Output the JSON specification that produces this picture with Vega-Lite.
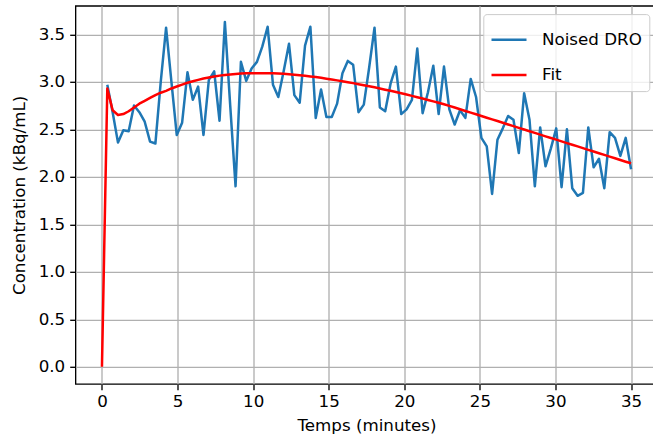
{
  "$schema": "https://vega.github.io/schema/vega-lite/v6.json",
  "width": 582,
  "height": 378.2,
  "autosize": "none",
  "padding": {"left": 75.5, "top": 5.8, "right": 0, "bottom": 60},
  "background": "white",
  "data": {"values": [
    {"t":0,"Fit":0},
    {"t":0.354,"Noised DRO":2.97,"Fit":2.93},
    {"t":0.707,"Noised DRO":2.68,"Fit":2.70},
    {"t":1.061,"Noised DRO":2.36,"Fit":2.65},
    {"t":1.414,"Noised DRO":2.49,"Fit":2.66},
    {"t":1.768,"Noised DRO":2.48,"Fit":2.69},
    {"t":2.121,"Noised DRO":2.75,"Fit":2.73},
    {"t":2.475,"Noised DRO":2.68,"Fit":2.77},
    {"t":2.828,"Noised DRO":2.58,"Fit":2.80},
    {"t":3.182,"Noised DRO":2.37,"Fit":2.83},
    {"t":3.535,"Noised DRO":2.35,"Fit":2.86},
    {"t":3.889,"Noised DRO":3.00,"Fit":2.885},
    {"t":4.242,"Noised DRO":3.57,"Fit":2.905},
    {"t":4.596,"Noised DRO":3.00,"Fit":2.93},
    {"t":4.949,"Noised DRO":2.44,"Fit":2.95},
    {"t":5.303,"Noised DRO":2.57,"Fit":2.97},
    {"t":5.657,"Noised DRO":3.10,"Fit":2.99},
    {"t":6.010,"Noised DRO":2.81,"Fit":3.005},
    {"t":6.364,"Noised DRO":2.95,"Fit":3.02},
    {"t":6.717,"Noised DRO":2.44,"Fit":3.035},
    {"t":7.071,"Noised DRO":3.02,"Fit":3.045},
    {"t":7.424,"Noised DRO":3.11,"Fit":3.055},
    {"t":7.778,"Noised DRO":2.59,"Fit":3.065},
    {"t":8.131,"Noised DRO":3.63,"Fit":3.072},
    {"t":8.485,"Noised DRO":2.75,"Fit":3.078},
    {"t":8.838,"Noised DRO":1.90,"Fit":3.083},
    {"t":9.192,"Noised DRO":3.21,"Fit":3.087},
    {"t":9.545,"Noised DRO":3.01,"Fit":3.089},
    {"t":9.899,"Noised DRO":3.14,"Fit":3.09},
    {"t":10.253,"Noised DRO":3.21,"Fit":3.09},
    {"t":10.606,"Noised DRO":3.37,"Fit":3.09},
    {"t":10.960,"Noised DRO":3.58,"Fit":3.09},
    {"t":11.313,"Noised DRO":2.97,"Fit":3.089},
    {"t":11.667,"Noised DRO":2.84,"Fit":3.087},
    {"t":12.020,"Noised DRO":3.11,"Fit":3.084},
    {"t":12.374,"Noised DRO":3.40,"Fit":3.08},
    {"t":12.727,"Noised DRO":2.86,"Fit":3.075},
    {"t":13.081,"Noised DRO":2.78,"Fit":3.07},
    {"t":13.434,"Noised DRO":3.38,"Fit":3.064},
    {"t":13.788,"Noised DRO":3.58,"Fit":3.057},
    {"t":14.141,"Noised DRO":2.62,"Fit":3.05},
    {"t":14.495,"Noised DRO":2.92,"Fit":3.042},
    {"t":14.848,"Noised DRO":2.63,"Fit":3.033},
    {"t":15.202,"Noised DRO":2.63,"Fit":3.024},
    {"t":15.556,"Noised DRO":2.77,"Fit":3.015},
    {"t":15.909,"Noised DRO":3.09,"Fit":3.006},
    {"t":16.263,"Noised DRO":3.22,"Fit":2.996},
    {"t":16.616,"Noised DRO":3.18,"Fit":2.986},
    {"t":16.970,"Noised DRO":2.68,"Fit":2.975},
    {"t":17.323,"Noised DRO":2.76,"Fit":2.964},
    {"t":17.677,"Noised DRO":3.15,"Fit":2.953},
    {"t":18.030,"Noised DRO":3.57,"Fit":2.942},
    {"t":18.384,"Noised DRO":2.73,"Fit":2.930},
    {"t":18.737,"Noised DRO":2.69,"Fit":2.917},
    {"t":19.091,"Noised DRO":2.98,"Fit":2.905},
    {"t":19.444,"Noised DRO":3.16,"Fit":2.892},
    {"t":19.798,"Noised DRO":2.66,"Fit":2.879},
    {"t":20.152,"Noised DRO":2.71,"Fit":2.866},
    {"t":20.505,"Noised DRO":2.81,"Fit":2.852},
    {"t":20.859,"Noised DRO":3.35,"Fit":2.838},
    {"t":21.212,"Noised DRO":2.67,"Fit":2.824},
    {"t":21.566,"Noised DRO":2.89,"Fit":2.809},
    {"t":21.919,"Noised DRO":3.17,"Fit":2.794},
    {"t":22.273,"Noised DRO":2.66,"Fit":2.779},
    {"t":22.626,"Noised DRO":3.16,"Fit":2.763},
    {"t":22.980,"Noised DRO":2.71,"Fit":2.747},
    {"t":23.333,"Noised DRO":2.55,"Fit":2.729},
    {"t":23.687,"Noised DRO":2.70,"Fit":2.711},
    {"t":24.040,"Noised DRO":2.62,"Fit":2.693},
    {"t":24.394,"Noised DRO":3.03,"Fit":2.676},
    {"t":24.747,"Noised DRO":2.84,"Fit":2.658},
    {"t":25.101,"Noised DRO":2.41,"Fit":2.640},
    {"t":25.455,"Noised DRO":2.32,"Fit":2.622},
    {"t":25.808,"Noised DRO":1.82,"Fit":2.604},
    {"t":26.162,"Noised DRO":2.39,"Fit":2.587},
    {"t":26.515,"Noised DRO":2.51,"Fit":2.569},
    {"t":26.869,"Noised DRO":2.64,"Fit":2.551},
    {"t":27.222,"Noised DRO":2.60,"Fit":2.533},
    {"t":27.576,"Noised DRO":2.25,"Fit":2.515},
    {"t":27.929,"Noised DRO":2.88,"Fit":2.498},
    {"t":28.283,"Noised DRO":2.60,"Fit":2.480},
    {"t":28.636,"Noised DRO":1.90,"Fit":2.462},
    {"t":28.990,"Noised DRO":2.52,"Fit":2.444},
    {"t":29.343,"Noised DRO":2.11,"Fit":2.426},
    {"t":29.697,"Noised DRO":2.30,"Fit":2.409},
    {"t":30.051,"Noised DRO":2.51,"Fit":2.391},
    {"t":30.404,"Noised DRO":1.89,"Fit":2.373},
    {"t":30.758,"Noised DRO":2.50,"Fit":2.355},
    {"t":31.111,"Noised DRO":1.88,"Fit":2.337},
    {"t":31.465,"Noised DRO":1.80,"Fit":2.320},
    {"t":31.818,"Noised DRO":1.83,"Fit":2.302},
    {"t":32.172,"Noised DRO":2.52,"Fit":2.284},
    {"t":32.525,"Noised DRO":2.10,"Fit":2.266},
    {"t":32.879,"Noised DRO":2.19,"Fit":2.248},
    {"t":33.232,"Noised DRO":1.88,"Fit":2.231},
    {"t":33.586,"Noised DRO":2.47,"Fit":2.213},
    {"t":33.939,"Noised DRO":2.41,"Fit":2.195},
    {"t":34.293,"Noised DRO":2.22,"Fit":2.177},
    {"t":34.646,"Noised DRO":2.41,"Fit":2.159},
    {"t":35,"Noised DRO":2.08,"Fit":2.142}
  ]},
  "transform": [
    {"fold": ["Noised DRO", "Fit"], "as": ["series", "value"]},
    {"filter": "isValid(datum.value)"}
  ],
  "encoding": {
    "x": {"field": "t", "type": "quantitative",
      "scale": {"domain": [-1.75, 36.75], "nice": false, "zero": false},
      "axis": {"values": [0,5,10,15,20,25,30,35], "title": "Temps (minutes)", "labelPadding": 4, "titlePadding": 7}},
    "y": {"field": "value", "type": "quantitative",
      "scale": {"domain": [-0.181, 3.8], "nice": false, "zero": false},
      "axis": {"values": [0,0.5,1,1.5,2,2.5,3,3.5], "format": ".1f", "title": "Concentration (kBq/mL)", "labelPadding": 5, "titlePadding": 10}},
    "color": {"field": "series", "type": "nominal",
      "scale": {"domain": ["Noised DRO", "Fit"], "range": ["#1f77b4", "#ff0000"]},
      "legend": {"title": null, "orient": "none", "legendX": 407.8, "legendY": 8.3}}
  },
  "layer": [
    {"transform": [{"filter": "datum.series === 'Noised DRO'"}],
     "mark": {"type": "line", "strokeWidth": 2.5, "strokeJoin": "round"}},
    {"transform": [{"filter": "datum.series === 'Fit'"}],
     "mark": {"type": "line", "strokeWidth": 2.5, "strokeJoin": "round"}}
  ],
  "config": {
    "view": {"stroke": "black", "strokeWidth": 1.33},
    "axis": {
      "domain": false,
      "grid": true, "gridColor": "#b0b0b0", "gridWidth": 1.33,
      "ticks": true, "tickColor": "black", "tickSize": 5.8, "tickWidth": 1.33,
      "labelFont": "DejaVu Sans", "labelFontSize": 16.7, "labelColor": "black",
      "labelOverlap": false, "labelFlush": false,
      "titleFont": "DejaVu Sans", "titleFontSize": 16.7, "titleFontWeight": "normal", "titleColor": "black"
    },
    "legend": {
      "fillColor": "rgba(255,255,255,0.8)", "strokeColor": "#cccccc", "cornerRadius": 3.3,
      "padding": 6.7, "symbolType": "stroke", "symbolSize": 1225, "symbolStrokeWidth": 2.5,
      "labelFont": "DejaVu Sans", "labelFontSize": 16.7, "labelColor": "black",
      "labelOffset": 14, "rowPadding": 7.3
    }
  }
}
